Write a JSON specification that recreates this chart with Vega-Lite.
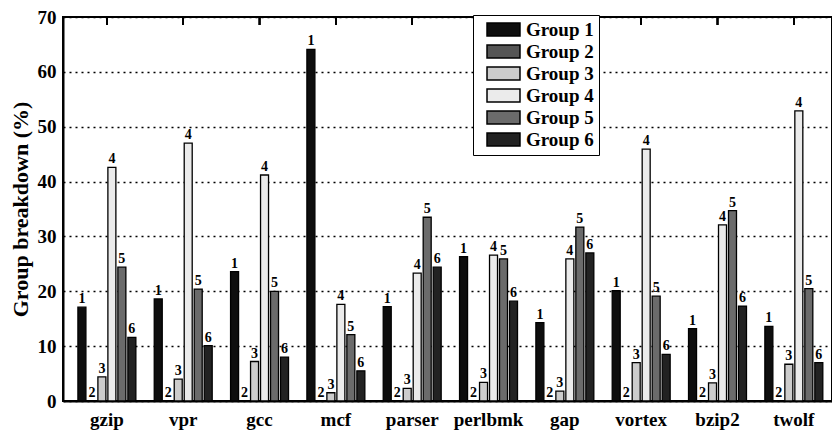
{
  "$schema": "https://vega.github.io/schema/vega-lite/v6.json",
  "width": 769,
  "height": 384,
  "autosize": {"type": "none"},
  "padding": {"left": 63, "top": 17, "right": 0, "bottom": 30},
  "background": "white",
  "config": {
    "view": {"stroke": "black", "strokeWidth": 2},
    "font": "Liberation Serif",
    "axis": {"labelFont": "Liberation Serif", "titleFont": "Liberation Serif", "labelFontWeight": "bold", "titleFontWeight": "bold", "labelColor": "black", "titleColor": "black"}
  },
  "data": {
    "values": [
      {"bench": "gzip", "group": "Group 1", "g": "1", "value": 17.1},
      {"bench": "gzip", "group": "Group 2", "g": "2", "value": 0},
      {"bench": "gzip", "group": "Group 3", "g": "3", "value": 4.4},
      {"bench": "gzip", "group": "Group 4", "g": "4", "value": 42.6},
      {"bench": "gzip", "group": "Group 5", "g": "5", "value": 24.4},
      {"bench": "gzip", "group": "Group 6", "g": "6", "value": 11.6},
      {"bench": "vpr", "group": "Group 1", "g": "1", "value": 18.6},
      {"bench": "vpr", "group": "Group 2", "g": "2", "value": 0},
      {"bench": "vpr", "group": "Group 3", "g": "3", "value": 4.0},
      {"bench": "vpr", "group": "Group 4", "g": "4", "value": 47.0},
      {"bench": "vpr", "group": "Group 5", "g": "5", "value": 20.4},
      {"bench": "vpr", "group": "Group 6", "g": "6", "value": 10.1},
      {"bench": "gcc", "group": "Group 1", "g": "1", "value": 23.6},
      {"bench": "gcc", "group": "Group 2", "g": "2", "value": 0},
      {"bench": "gcc", "group": "Group 3", "g": "3", "value": 7.2},
      {"bench": "gcc", "group": "Group 4", "g": "4", "value": 41.2},
      {"bench": "gcc", "group": "Group 5", "g": "5", "value": 20.0},
      {"bench": "gcc", "group": "Group 6", "g": "6", "value": 8.0},
      {"bench": "mcf", "group": "Group 1", "g": "1", "value": 64.1},
      {"bench": "mcf", "group": "Group 2", "g": "2", "value": 0},
      {"bench": "mcf", "group": "Group 3", "g": "3", "value": 1.5},
      {"bench": "mcf", "group": "Group 4", "g": "4", "value": 17.6},
      {"bench": "mcf", "group": "Group 5", "g": "5", "value": 12.1},
      {"bench": "mcf", "group": "Group 6", "g": "6", "value": 5.5},
      {"bench": "parser", "group": "Group 1", "g": "1", "value": 17.2},
      {"bench": "parser", "group": "Group 2", "g": "2", "value": 0},
      {"bench": "parser", "group": "Group 3", "g": "3", "value": 2.3},
      {"bench": "parser", "group": "Group 4", "g": "4", "value": 23.3},
      {"bench": "parser", "group": "Group 5", "g": "5", "value": 33.5},
      {"bench": "parser", "group": "Group 6", "g": "6", "value": 24.4},
      {"bench": "perlbmk", "group": "Group 1", "g": "1", "value": 26.3},
      {"bench": "perlbmk", "group": "Group 2", "g": "2", "value": 0},
      {"bench": "perlbmk", "group": "Group 3", "g": "3", "value": 3.4},
      {"bench": "perlbmk", "group": "Group 4", "g": "4", "value": 26.6},
      {"bench": "perlbmk", "group": "Group 5", "g": "5", "value": 25.9},
      {"bench": "perlbmk", "group": "Group 6", "g": "6", "value": 18.2},
      {"bench": "gap", "group": "Group 1", "g": "1", "value": 14.3},
      {"bench": "gap", "group": "Group 2", "g": "2", "value": 0},
      {"bench": "gap", "group": "Group 3", "g": "3", "value": 1.8},
      {"bench": "gap", "group": "Group 4", "g": "4", "value": 25.9},
      {"bench": "gap", "group": "Group 5", "g": "5", "value": 31.7},
      {"bench": "gap", "group": "Group 6", "g": "6", "value": 27.0},
      {"bench": "vortex", "group": "Group 1", "g": "1", "value": 20.1},
      {"bench": "vortex", "group": "Group 2", "g": "2", "value": 0},
      {"bench": "vortex", "group": "Group 3", "g": "3", "value": 7.0},
      {"bench": "vortex", "group": "Group 4", "g": "4", "value": 45.9},
      {"bench": "vortex", "group": "Group 5", "g": "5", "value": 19.1},
      {"bench": "vortex", "group": "Group 6", "g": "6", "value": 8.5},
      {"bench": "bzip2", "group": "Group 1", "g": "1", "value": 13.2},
      {"bench": "bzip2", "group": "Group 2", "g": "2", "value": 0},
      {"bench": "bzip2", "group": "Group 3", "g": "3", "value": 3.3},
      {"bench": "bzip2", "group": "Group 4", "g": "4", "value": 32.1},
      {"bench": "bzip2", "group": "Group 5", "g": "5", "value": 34.7},
      {"bench": "bzip2", "group": "Group 6", "g": "6", "value": 17.3},
      {"bench": "twolf", "group": "Group 1", "g": "1", "value": 13.6},
      {"bench": "twolf", "group": "Group 2", "g": "2", "value": 0},
      {"bench": "twolf", "group": "Group 3", "g": "3", "value": 6.7},
      {"bench": "twolf", "group": "Group 4", "g": "4", "value": 52.9},
      {"bench": "twolf", "group": "Group 5", "g": "5", "value": 20.5},
      {"bench": "twolf", "group": "Group 6", "g": "6", "value": 7.0}
    ]
  },
  "layer": [
    {
      "mark": {"type": "bar", "stroke": "black", "strokeWidth": 1.3},
      "encoding": {
        "x": {"field": "bench", "type": "nominal", "sort": null,
          "scale": {"paddingInner": 0, "paddingOuter": 0.0375, "align": 1},
          "axis": {"orient": "bottom", "title": null, "labelAngle": 0, "ticks": false, "labelPadding": 9, "labelFontSize": 19, "domainColor": "black", "domainWidth": 2}},
        "xOffset": {"field": "group", "type": "nominal", "sort": null,
          "scale": {"paddingInner": 0.2, "paddingOuter": 0.92}},
        "y": {"field": "value", "type": "quantitative", "scale": {"domain": [0, 70], "nice": false},
          "axis": {"title": "Group breakdown (%)", "titleFontSize": 22, "titlePadding": 5, "values": [0, 10, 20, 30, 40, 50, 60, 70], "labelFontSize": 19, "labelPadding": 7, "ticks": false, "domainColor": "black", "domainWidth": 2, "grid": true, "gridColor": "black", "gridDash": [2, 4], "gridWidth": 1.3, "gridOpacity": 1}},
        "color": {"field": "group", "type": "nominal",
          "scale": {"domain": ["Group 1", "Group 2", "Group 3", "Group 4", "Group 5", "Group 6"], "range": ["#0e0e0e", "#555555", "#cccccc", "#ebebeb", "#6b6b6b", "#222222"]},
          "legend": {"title": null, "orient": "none", "legendX": 410, "legendY": -2, "labelFont": "Liberation Serif", "labelFontWeight": "bold", "labelFontSize": 19, "labelColor": "black", "symbolType": "M-2.5,-1L2.5,-1L2.5,1L-2.5,1Z", "symbolSize": 174, "symbolOffset": 16, "symbolStrokeColor": "black", "symbolStrokeWidth": 1.5, "symbolOpacity": 1, "labelOffset": 13, "rowPadding": 1, "padding": 5, "strokeColor": "black", "fillColor": "white"}}
      }
    },
    {
      "mark": {"type": "text", "baseline": "bottom", "dy": -1, "fontSize": 14, "fontWeight": "bold", "font": "Liberation Serif", "color": "black"},
      "encoding": {
        "x": {"field": "bench", "type": "nominal", "sort": null},
        "xOffset": {"field": "group", "type": "nominal", "sort": null},
        "y": {"field": "value", "type": "quantitative"},
        "text": {"field": "g"}
      }
    },
    {
      "mark": {"type": "rule", "color": "black", "strokeWidth": 1.5},
      "encoding": {
        "x": {"field": "bench", "type": "nominal", "sort": null},
        "y": {"datum": 70},
        "y2": {"datum": 68.55}
      }
    }
  ]
}
